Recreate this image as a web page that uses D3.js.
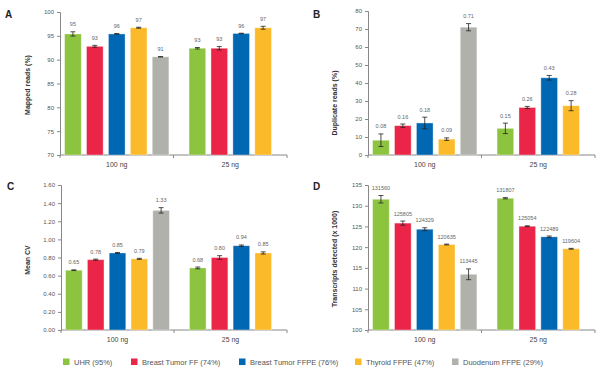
<!DOCTYPE html>
<html>
<head>
<meta charset="utf-8">
<script src="https://cdn.jsdelivr.net/npm/d3@7"></script>
<style>
  body { margin: 0; background: #fff; }
  svg { display: block; font-family: "Liberation Sans", Arial, sans-serif; }
</style>
</head>
<body>
<div id="chart"></div>
<script>
// ---------------- datos ----------------
const GRUPOS = ["100 ng", "25 ng"];
const SERIES = ["UHR (95%)", "Breast Tumor FF (74%)", "Breast Tumor FFPE (76%)", "Thyroid FFPE (47%)", "Duodenum FFPE (29%)"];
const COLORES = ["#8cc43f", "#ea2548", "#0067b2", "#fbba2a", "#b0b1ab"];

// A - Mapped reads (%)
const mapped100 = [95.4, 92.8, 95.4, 96.7, 90.6];
const mapped25 = [92.4, 92.4, 95.5, 96.7];
const mappedErr100 = [0.45, 0.2, 0.08, 0.1, 0.05];
const mappedErr25 = [0.15, 0.35, 0.05, 0.3];
const mappedLbl100 = ["95", "93", "96", "97", "91"];
const mappedLbl25 = ["93", "93", "96", "97"];
const mappedTicks = [70, 75, 80, 85, 90, 95, 100];

// B - Duplicate reads (%)
const dup100 = [8.2, 16.3, 17.8, 8.8, 71.0];
const dup25 = [14.8, 26.4, 42.9, 27.4];
const dupErr100 = [3.5, 0.9, 3.2, 0.7, 2.0];
const dupErr25 = [2.9, 0.6, 1.3, 2.8];
const dupLbl100 = ["0.08", "0.16", "0.18", "0.09", "0.71"];
const dupLbl25 = ["0.15", "0.26", "0.43", "0.28"];
const dupTicks = [0, 10, 20, 30, 40, 50, 60, 70, 80];

// C - Mean CV
const cv100 = [0.66, 0.776, 0.85, 0.785, 1.32];
const cv25 = [0.685, 0.80, 0.93, 0.85];
const cvErr100 = [0.004, 0.006, 0.005, 0.006, 0.03];
const cvErr25 = [0.01, 0.02, 0.008, 0.012];
const cvLbl100 = ["0.65", "0.78", "0.85", "0.79", "1.33"];
const cvLbl25 = ["0.68", "0.80", "0.94", "0.85"];
const cvTicks = [0, 0.2, 0.4, 0.6, 0.8, 1.0, 1.2, 1.4, 1.6];

// D - Transcripts detected (x 1000)
const trans100 = [131.56, 125.805, 124.329, 120.635, 113.445];
const trans25 = [131.807, 125.054, 122.489, 119.604];
const transErr100 = [0.9, 0.5, 0.35, 0.1, 1.3];
const transErr25 = [0.15, 0.1, 0.2, 0.1];
const transLbl100 = ["131560", "125805", "124329", "120635", "113445"];
const transLbl25 = ["131807", "125054", "122489", "119604"];
const transTicks = [100, 105, 110, 115, 120, 125, 130, 135];

// ---------------- svg ----------------
const WIDTH = 600;
const HEIGHT = 373;
const SVG = d3.select("#chart").append("svg").attr("width", WIDTH).attr("height", HEIGHT);

const paneles = [
  { letra: "A", lx: 5, ly: 18, x0: 60, x1: 287, yTop: 12, yBot: 155, dom: [70, 100], ticks: mappedTicks, fmt: d3.format("d"),
    titulo: "Mapped reads (%)", tx: 30, ty: 85,
    valores: [mapped100, mapped25], errores: [mappedErr100, mappedErr25], etiquetas: [mappedLbl100, mappedLbl25] },
  { letra: "B", lx: 313, ly: 18, x0: 368, x1: 595, yTop: 11, yBot: 155, dom: [0, 80], ticks: dupTicks, fmt: d3.format("d"),
    titulo: "Duplicate reads (%)", tx: 337, ty: 103,
    valores: [dup100, dup25], errores: [dupErr100, dupErr25], etiquetas: [dupLbl100, dupLbl25] },
  { letra: "C", lx: 7, ly: 190, x0: 61, x1: 287, yTop: 185, yBot: 330, dom: [0, 1.6], ticks: cvTicks, fmt: d3.format(".2f"),
    titulo: "Mean CV", tx: 30, ty: 260,
    valores: [cv100, cv25], errores: [cvErr100, cvErr25], etiquetas: [cvLbl100, cvLbl25] },
  { letra: "D", lx: 313, ly: 190, x0: 368, x1: 595, yTop: 185, yBot: 330, dom: [100, 135], ticks: transTicks, fmt: d3.format("d"),
    titulo: "Transcripts detected (x 1000)", tx: 337, ty: 259,
    valores: [trans100, trans25], errores: [transErr100, transErr25], etiquetas: [transLbl100, transLbl25] }
];

paneles.forEach(dibujarPanel);

function dibujarPanel(p) {
  const g = SVG.append("g");

  const y = d3.scaleLinear().domain(p.dom).range([p.yBot, p.yTop]);
  const xg = d3.scaleBand().domain(GRUPOS).range([p.x0, p.x1]).padding(0);
  const xs = d3.scaleBand().domain(d3.range(SERIES.length)).range([0, xg.bandwidth()])
    .paddingInner(0.24).paddingOuter(0.21);

  // letra del panel
  g.append("text").attr("x", p.lx).attr("y", p.ly).text(p.letra)
    .attr("font-size", "10px").attr("font-weight", "bold").attr("fill", "#222");

  // titulo eje y
  g.append("text").attr("transform", `translate(${p.tx},${p.ty}) rotate(-90)`)
    .attr("text-anchor", "middle").attr("font-size", "7px").attr("font-weight", "bold")
    .attr("fill", "#333").text(p.titulo);

  // eje y
  const ejeY = g.append("g").attr("transform", `translate(${p.x0},0)`)
    .call(d3.axisLeft(y).tickValues(p.ticks).tickFormat(p.fmt).tickSize(3).tickPadding(3));
  ejeY.select(".domain").attr("stroke", "#888");
  ejeY.selectAll(".tick line").attr("stroke", "#888");
  ejeY.selectAll("text").attr("font-size", "6px").attr("fill", "#555").attr("font-family", "Liberation Sans, Arial, sans-serif");

  // eje x
  const ejeX = g.append("g").attr("transform", `translate(0,${p.yBot})`);
  ejeX.append("line").attr("x1", p.x0).attr("x2", p.x1).attr("stroke", "#888");
  ejeX.selectAll(".tk").data([p.x0, xg(GRUPOS[1]), p.x1]).enter().append("line")
    .attr("x1", d => d).attr("x2", d => d).attr("y1", 0).attr("y2", 3).attr("stroke", "#888");
  ejeX.selectAll(".lbl").data(GRUPOS).enter().append("text")
    .attr("x", d => xg(d) + xg.bandwidth() / 2).attr("y", 12)
    .attr("text-anchor", "middle").attr("font-size", "7px").attr("fill", "#444").text(d => d);

  // barras
  GRUPOS.forEach((grupo, gi) => {
    const vals = p.valores[gi];
    const n = vals.length;
    const offset = xg(grupo) + (SERIES.length - n) * xs.step() / 2;
    const datos = vals.map((v, i) => ({ i, v, e: p.errores[gi][i], lbl: p.etiquetas[gi][i] }));

    const barras = g.append("g");
    barras.selectAll("rect").data(datos).enter().append("rect")
      .attr("x", d => offset + xs(d.i))
      .attr("y", d => y(d.v))
      .attr("width", xs.bandwidth())
      .attr("height", d => p.yBot - y(d.v))
      .attr("fill", d => COLORES[d.i])
      .attr("stroke", "#fff").attr("stroke-opacity", 0.45).attr("stroke-width", 0.8);

    const err = barras.selectAll(".err").data(datos).enter().append("g")
      .attr("transform", d => `translate(${offset + xs(d.i) + xs.bandwidth() / 2},0)`);
    err.append("line").attr("y1", d => y(d.v + d.e)).attr("y2", d => y(d.v - d.e))
      .attr("stroke", "#222").attr("stroke-width", 0.8);
    err.append("line").attr("x1", -2.5).attr("x2", 2.5).attr("y1", d => y(d.v + d.e)).attr("y2", d => y(d.v + d.e))
      .attr("stroke", "#222").attr("stroke-width", 0.8);
    err.append("line").attr("x1", -2.5).attr("x2", 2.5).attr("y1", d => y(d.v - d.e)).attr("y2", d => y(d.v - d.e))
      .attr("stroke", "#222").attr("stroke-width", 0.8);
    err.append("text").attr("y", d => y(d.v + d.e) - 5.5).attr("text-anchor", "middle")
      .attr("font-size", "5.5px").attr("fill", "#666").text(d => d.lbl);
  });
}

// leyenda
const leyX = [63, 131, 239, 355, 452];
const leyenda = SVG.append("g").attr("transform", "translate(0,362)");
const items = leyenda.selectAll("g").data(SERIES).enter().append("g")
  .attr("transform", (d, i) => `translate(${leyX[i]},0)`);
items.append("rect").attr("x", 0).attr("y", -3.5).attr("width", 6.5).attr("height", 6.5)
  .attr("fill", (d, i) => COLORES[i]);
items.append("text").attr("x", 11).attr("y", 2.6).attr("font-size", "7.5px").attr("fill", "#555").text(d => d);
</script>
</body>
</html>
